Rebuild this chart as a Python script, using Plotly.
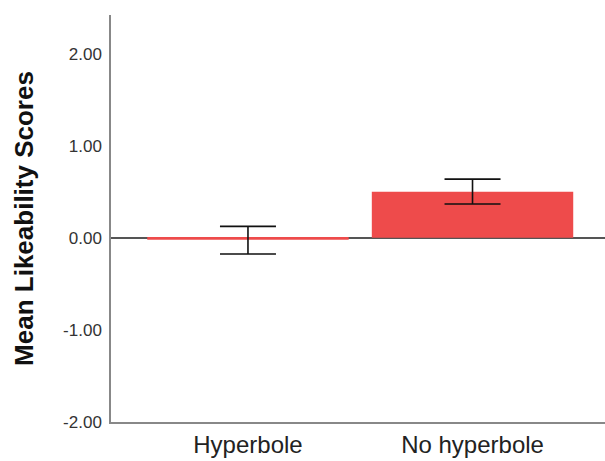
import plotly.graph_objects as go

categories = ["Hyperbole", "No hyperbole"]
means = [-0.02, 0.50]
err_plus = [0.145, 0.138]
err_minus = [0.155, 0.132]
y_ticks = [-2, -1, 0, 1, 2]
y_tick_labels = ["-2.00", "-1.00", "0.00", "1.00", "2.00"]

fig = go.Figure()
fig.add_trace(go.Bar(
    x=[0, 1], y=means, width=0.897,
    marker=dict(color="#EE4B4B", line=dict(width=0)),
    error_y=dict(type="data", array=err_plus, arrayminus=err_minus,
                 color="#111111", thickness=1.6, width=28),
))
fig.update_layout(
    width=605, height=461,
    margin=dict(l=111, r=0, t=15, b=39),
    plot_bgcolor="white", paper_bgcolor="white",
    showlegend=False,
    font=dict(family="Liberation Sans, Arial, sans-serif"),
)
fig.update_xaxes(
    range=[-0.61, 1.59], tickvals=[0, 1], ticktext=categories,
    showline=True, linecolor="#888888", linewidth=1.5,
    showgrid=False, zeroline=False, ticks="",
    tickfont=dict(size=24, color="#222222"),
)
fig.update_yaxes(
    range=[-2, 2.42], tickvals=y_ticks, ticktext=y_tick_labels,
    showline=True, linecolor="#888888", linewidth=1.5,
    showgrid=False, zeroline=True, zerolinecolor="#555555", zerolinewidth=1.5,
    ticks="", ticklabelstandoff=4,
    tickfont=dict(size=17, color="#333333"),
    title=dict(text="<b>Mean Likeability Scores</b>", font=dict(size=26, color="#111111"), standoff=22),
)
fig.write_html("out.html")
